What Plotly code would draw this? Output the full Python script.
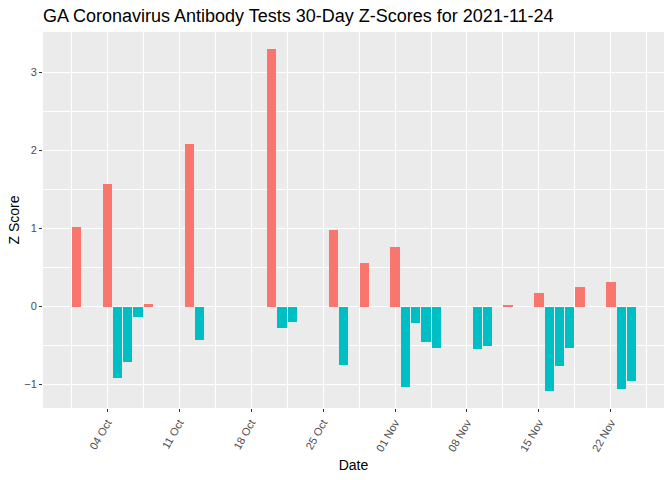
import plotly.graph_objects as go

dates = ["2021-10-01", "2021-10-04", "2021-10-05", "2021-10-06", "2021-10-07", "2021-10-08",
         "2021-10-12", "2021-10-13", "2021-10-20", "2021-10-21", "2021-10-22",
         "2021-10-26", "2021-10-27", "2021-10-29", "2021-11-01", "2021-11-02",
         "2021-11-03", "2021-11-04", "2021-11-05", "2021-11-09", "2021-11-10",
         "2021-11-12", "2021-11-15", "2021-11-16", "2021-11-17", "2021-11-18",
         "2021-11-19", "2021-11-22", "2021-11-23", "2021-11-24"]
zscores = [1.02, 1.57, -0.915, -0.71, -0.133, 0.033,
           2.08, -0.43, 3.30, -0.27, -0.20,
           0.98, -0.75, 0.555, 0.76, -1.03,
           -0.21, -0.46, -0.53, -0.54, -0.50,
           0.017, 0.175, -1.08, -0.76, -0.53,
           0.25, 0.315, -1.055, -0.95]

tick_vals = ["2021-10-04", "2021-10-11", "2021-10-18", "2021-10-25",
             "2021-11-01", "2021-11-08", "2021-11-15", "2021-11-22"]
tick_text = ["04 Oct", "11 Oct", "18 Oct", "25 Oct", "01 Nov", "08 Nov", "15 Nov", "22 Nov"]

DAY = 86400000
colors = ["#F8766D" if v > 0 else "#00BFC4" for v in zscores]

fig = go.Figure(go.Bar(
    x=dates, y=zscores, marker=dict(color=colors, line=dict(width=0)),
    width=[0.9 * DAY] * len(dates), showlegend=False, hoverinfo="x+y"))

fig.update_layout(
    width=672, height=480,
    margin=dict(l=43, r=8, t=32, b=72, autoexpand=False),
    paper_bgcolor="white", plot_bgcolor="#EBEBEB",
    font=dict(family="Liberation Sans, Arial, sans-serif", color="black"),
    title=dict(text="GA Coronavirus Antibody Tests 30-Day Z-Scores for 2021-11-24",
               x=0, xref="paper", xanchor="left", y=0.9667, yref="container",
               yanchor="middle", automargin=False, font=dict(size=18, color="black")),
    bargap=0,
)

fig.update_xaxes(
    type="date", range=["2021-09-27 18:00", "2021-11-27 04:00"],
    tickmode="array", tickvals=tick_vals, ticktext=tick_text,
    tickangle=-60, tickfont=dict(size=11, color="#4D4D4D"),
    ticks="outside", ticklen=3, tickcolor="#333333", tickwidth=1,
    showgrid=True, gridcolor="white", gridwidth=1.1,
    minor=dict(tick0="2021-09-30 12:00", dtick=7 * DAY, showgrid=True,
               gridcolor="white", gridwidth=0.55, ticks=""),
    zeroline=False, showline=False, automargin=False,
    title=dict(text="Date", font=dict(size=14, color="black"), standoff=7),
)

fig.update_yaxes(
    range=[-1.30, 3.517], tickmode="array", tickvals=[-1, 0, 1, 2, 3],
    tickfont=dict(size=11, color="#4D4D4D"),
    ticks="outside", ticklen=3, tickcolor="#333333", tickwidth=1,
    showgrid=True, gridcolor="white", gridwidth=1.1,
    minor=dict(tickvals=[-0.5, 0.5, 1.5, 2.5], showgrid=True,
               gridcolor="white", gridwidth=0.55, ticks=""),
    zeroline=False, showline=False, automargin=False,
    title=dict(text="Z Score", font=dict(size=14, color="black"), standoff=1),
)

fig.write_html("out.html", config={"displayModeBar": False},
               post_script="document.body.style.margin='0';document.body.style.overflow='hidden';")
